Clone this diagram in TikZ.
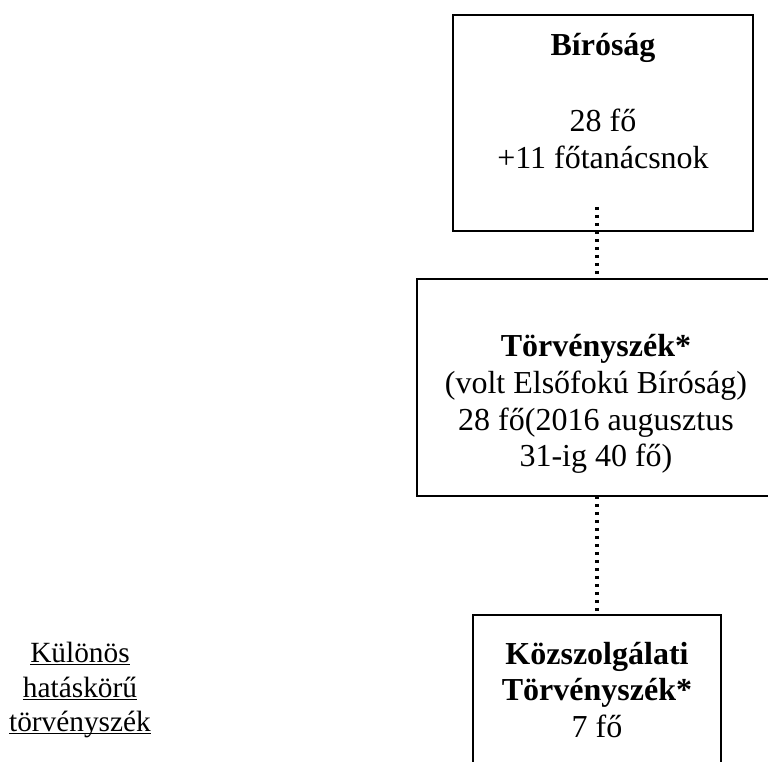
\documentclass[tikz,border=0pt]{standalone}
\usepackage{fontspec}
\setmainfont{Liberation Serif}
\usetikzlibrary{calc}
\tikzset{
  boxnode/.style={draw, line width=1.2pt, inner sep=0pt, outer sep=0pt},
  boxtext/.style={align=center, inner sep=0pt, font=\fontsize{24}{27.6}\selectfont},
  sidetext/.style={align=center, inner sep=0pt, font=\fontsize{22}{25.9}\selectfont},
  dotline/.style={line width=2.6pt, dash pattern=on 2.6pt off 3.4pt}
}
\newcommand{\myul}[1]{\underline{\smash{#1}}\vphantom{#1}}
\begin{document}
\begin{tikzpicture}[x=0.75pt, y=-0.75pt]
\useasboundingbox (0,0) rectangle (768,762);
\clip (0,0) rectangle (768,762);
\coordinate (ax) at (597,0);
% boxes
\node[boxnode, minimum width=225pt, minimum height=162pt] (box1) at (603,123) {};
\node[boxnode, minimum width=268.5pt, minimum height=162.75pt] (box2) at (596,387.5) {};
\node[boxnode, minimum width=186pt, minimum height=138.75pt] (box3) at (597,707.5) {};
% texts
\node[boxtext] (t1) at (603,101) {\textbf{Bíróság}\\[30pt]28 fő\\+11 főtanácsnok};
\node[boxtext] (t2) at (596,404) {\textbf{Törvényszék*}\\(volt Elsőfokú Bíróság)\\28 fő(2016 augusztus\\31-ig 40 fő)};
\node[boxtext] (t3) at (597,690) {\textbf{Közszolgálati}\\\textbf{Törvényszék*}\\7 fő};
\node[sidetext] (side) at (80,690) {\myul{Különös}\\\myul{hatáskörű}\\\myul{törvényszék}};
% connectors
\draw[dotline] ($(box1.south -| ax)+(0,-24)$) -- (box2.north -| ax);
\draw[dotline] (box2.south -| ax) -- (box3.north -| ax);
\end{tikzpicture}
\end{document}
